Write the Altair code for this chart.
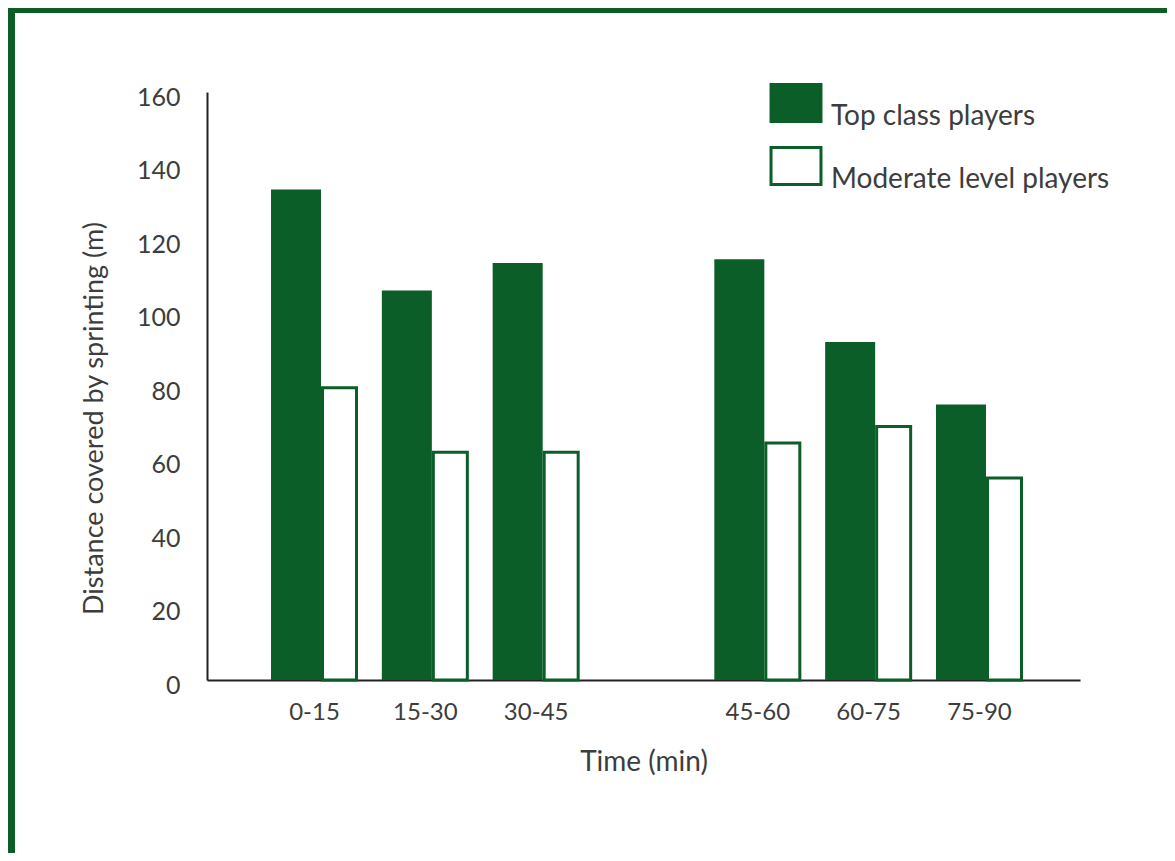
import altair as alt
import pandas as pd

# ---- data ----
periods = ["0-15", "15-30", "30-45", "45-60", "60-75", "75-90"]
top_class = [133.5, 106, 113.5, 114.5, 92, 75]
moderate = [79.5, 62, 62, 64.5, 69, 55]
series_names = ["Top class players", "Moderate level players"]
x_domain = ["0-15", "15-30", "30-45", " ", "45-60", "60-75", "75-90"]
y_ticks = [0, 20, 40, 60, 80, 100, 120, 140, 160]

GREEN = "#0b5e28"
TEXT = "#3d3d3d"
FONT = "Lato"

df_top = pd.DataFrame({"time": periods, "value": top_class, "series": series_names[0]})
df_mod = pd.DataFrame({"time": periods, "value": moderate, "series": series_names[1]})

x_scale = alt.Scale(domain=x_domain, paddingInner=0, paddingOuter=0.4385, align=0.536)
y_scale = alt.Scale(domain=[0, 160])
fill_scale = alt.Scale(domain=series_names, range=[GREEN, "#ffffff"])

x_enc = alt.X(
    "time:N", sort=x_domain, scale=x_scale,
    axis=alt.Axis(
        title="Time (min)", labelAngle=0, ticks=False, domainColor="#222222",
        domainWidth=2, labelFontSize=24, labelColor=TEXT, labelFont=FONT,
        labelPadding=20, titleFontSize=28, titleColor=TEXT, titleFont=FONT,
        titleFontWeight="normal", titlePadding=24,
    ),
)
y_enc = alt.Y(
    "value:Q", scale=y_scale,
    axis=alt.Axis(
        title="Distance covered by sprinting (m)", values=y_ticks, grid=False,
        ticks=False, domainColor="#222222", domainWidth=2, labelFontSize=25,
        labelColor=TEXT, labelFont=FONT, labelPadding=27, labelOffset=5,
        titleFontSize=27, titleColor=TEXT, titleFont=FONT,
        titleFontWeight="normal", titlePadding=28, titleY=326,
    ),
)

legend = alt.Legend(
    title=None, orient="none", legendX=569, legendY=-9, padding=0,
    symbolType="M-1.35,-1H1.35V1H-1.35Z", symbolSize=1369,
    symbolStrokeColor=GREEN, symbolStrokeWidth=3, symbolOpacity=1,
    labelFontSize=28, labelColor=TEXT, labelFont=FONT, labelOffset=15,
    labelBaseline="top", rowPadding=10, labelLimit=400,
)

top_bars = alt.Chart(df_top).mark_bar(width=50, xOffset=-18.5, stroke=GREEN, strokeWidth=0).encode(
    x=x_enc, y=y_enc,
    fill=alt.Fill("series:N", scale=fill_scale, legend=legend),
)
mod_bars = alt.Chart(df_mod).mark_bar(width=34, xOffset=25, stroke=GREEN, strokeWidth=3).encode(
    x=x_enc, y=y_enc,
    fill=alt.Fill("series:N", scale=fill_scale, legend=legend),
)

# decorative frame (top and left edge)
frame_df = pd.DataFrame({"k": [0]})
frame_left = alt.Chart(frame_df).mark_rect(color=GREEN).encode(
    x=alt.value(-199), x2=alt.value(-192), y=alt.value(-84), y2=alt.value(761)
)
frame_top = alt.Chart(frame_df).mark_rect(color=GREEN).encode(
    x=alt.value(-199), x2=alt.value(960), y=alt.value(-84), y2=alt.value(-79)
)

chart = alt.layer(top_bars, mod_bars, frame_left, frame_top).properties(
    width=873, height=588,
    autosize=alt.AutoSizeParams(type="none"),
    padding={"left": 199, "top": 84, "right": 87, "bottom": 173},
    background="#ffffff",
).configure_view(stroke=None)

chart.save("out.html", embed_options={"renderer": "svg", "actions": False})
